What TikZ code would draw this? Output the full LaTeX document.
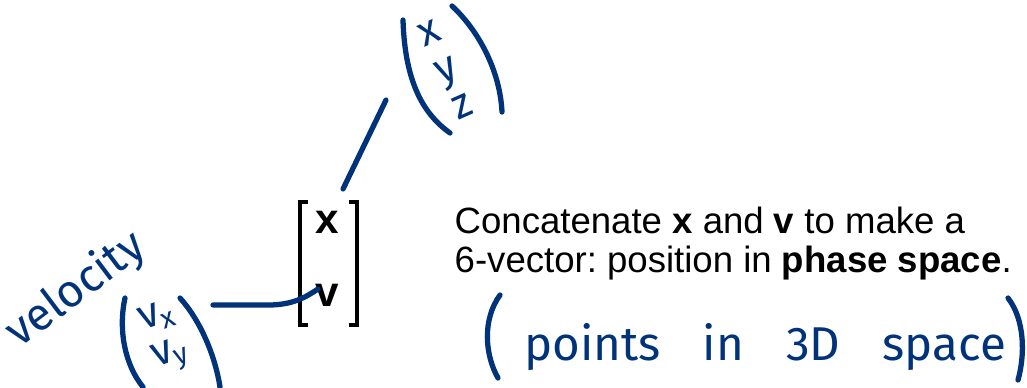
\documentclass[tikz,border=0pt]{standalone}
\usepackage{fontspec}
\setmainfont{Liberation Sans}
\newfontfamily\handfont{Fira Sans}
\definecolor{inkBlue}{RGB}{0, 51, 122}

\begin{document}
\begin{tikzpicture}[x=0.01cm,y=-0.01cm,
    hand/.style={draw=inkBlue,line width=1.5pt,line cap=round},
    handtext/.style={text=inkBlue,inner sep=0pt},
    entry/.style={font=\fontsize{12}{14}\selectfont\bfseries,inner sep=0pt},
    bracket/.style={draw,line width=0.9pt}]
  \useasboundingbox (0,0) rectangle (1027,387);

  % phase space vector
  \node[entry] (mx) at (327,222) {x};
  \node[entry] (mv) at (327,295) {v};
  \draw[bracket] (308,202) -- (300,202) -- (300,325) -- (308,325);
  \draw[bracket] (349,202) -- (357,202) -- (357,325) -- (349,325);

  % caption
  \node[anchor=north west,align=left,inner sep=0pt,font=\frenchspacing\fontsize{10.4}{11.1}\selectfont] (caption) at (454,206) {Concatenate \textbf{x} and \textbf{v} to make a\\6-vector: position in \textbf{phase space}.};

  % position (x y z)
  \node[handtext,rotate=24,align=center,font=\handfont\fontsize{12}{11.5}\selectfont] (pos) at (446,70) {x\\y\\z};
  \draw[hand] (403,20) .. controls (405,85) and (425,115) .. (450,133);
  \draw[hand] (452,6) .. controls (478,30) and (500,70) .. (502,112);
  \coordinate (xfoot) at (343,189);
  \coordinate (posfoot) at (386,100);
  \draw[hand] (xfoot) -- (posfoot);

  % velocity (vx vy)
  \node[handtext,rotate=37,font=\handfont\fontsize{13}{14}\selectfont] (velword) at (76,290) {velocity};
  \node[handtext,rotate=20,align=center,font=\handfont\fontsize{12}{11}\selectfont] (vel) at (165,338) {v\textsubscript{x}\\v\textsubscript{y}};
  \draw[hand] (125,298) .. controls (118,330) and (125,365) .. (143,387);
  \draw[hand] (180,298) .. controls (200,320) and (215,355) .. (220,387);
  \coordinate (velhook) at (213,305);
  \coordinate (vtip) at (318,289);
  \draw[hand] (velhook) -- ++(55,0) .. controls +(25,0) and +(-12,8) .. (vtip);

  % points in 3D space
  \node[handtext,anchor=base,font=\handfont\fontsize{13.5}{16}\selectfont] (pts) at (765,360) {points\hspace{12pt}in\hspace{12pt}3D\hspace{12pt}space};
  \draw[hand] (500,295) .. controls (482,320) and (485,355) .. (498,378);
  \draw[hand] (1008,298) .. controls (1025,320) and (1025,355) .. (1018,380);
\end{tikzpicture}
\end{document}
